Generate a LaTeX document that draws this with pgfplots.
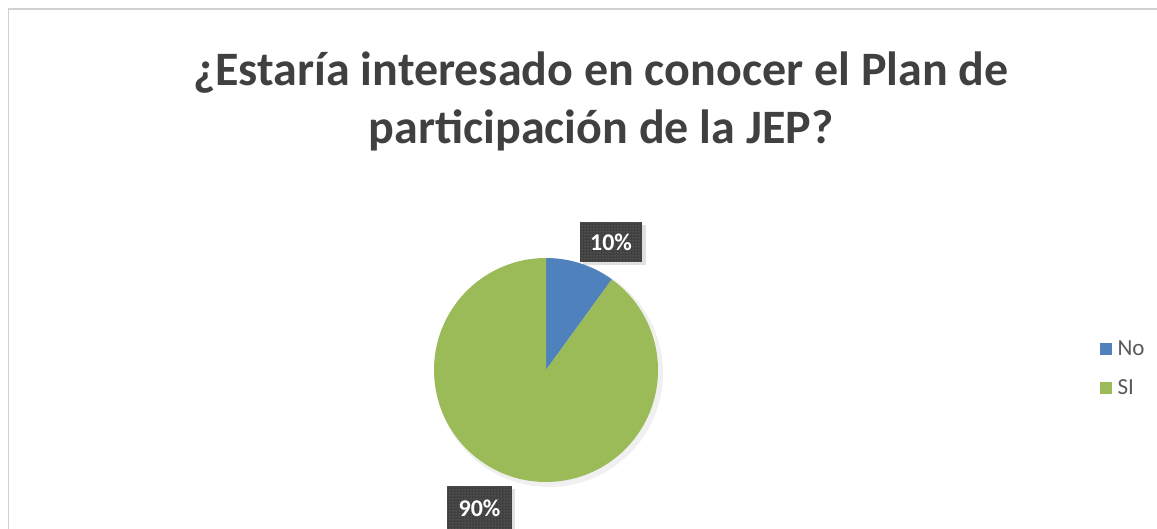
\documentclass[border=0pt]{standalone}
\usepackage{pgfplots}
\usepackage{pgfplotstable}
\pgfplotsset{compat=1.18}
\usepackage{fontspec}
\setmainfont{Carlito}
\usetikzlibrary{patterns}

\definecolor{cNo}{HTML}{4F81BD}
\definecolor{cSI}{HTML}{9BBB59}
\definecolor{titlegray}{HTML}{404040}
\definecolor{textgray}{HTML}{595959}
\definecolor{boxgray}{HTML}{404040}
\definecolor{framegray}{HTML}{D0D0D0}

% answers, in percent
\pgfplotstableread{
label value
No    10
SI    90
}\piedata

\begin{document}
\begin{tikzpicture}
\pgfplotstablegetelem{0}{value}\of\piedata \let\vNo\pgfplotsretval
\pgfplotstablegetelem{1}{value}\of\piedata \let\vSI\pgfplotsretval
\pgfmathsetmacro{\aA}{90}
\pgfmathsetmacro{\aB}{90-3.6*\vNo}
\pgfmathsetmacro{\aC}{\aB-3.6*\vSI}
\begin{axis}[
    scale only axis,
    width=1157pt, height=529pt,
    xmin=0, xmax=1157, ymin=0, ymax=529,
    hide axis,
    clip=false,
    legend style={at={(axis cs:1100,188)},anchor=north west,draw=none,fill=none,
        font=\fontsize{23}{23}\selectfont\color{textgray},
        row sep=24pt, inner sep=0pt,
        nodes={inner sep=0pt,text depth=0pt}},
    legend cell align=left,
    legend image code/.code={\fill[#1] (0pt,-5.5pt) rectangle (11pt,5.5pt);},
]
% frame of the chart area
\draw[framegray,line width=1.5pt] (axis cs:8.5,0) -- (axis cs:8.5,520) -- (axis cs:1157,520);

% title
\node[font=\fontsize{48}{58}\selectfont\bfseries,text=titlegray,align=center]
    at (axis cs:601,428) {¿Estaría interesado en conocer el Plan de\\participación de la JEP?};

% faint shadow of the pie
\fill[black,opacity=0.06] (axis cs:549,156) circle[radius=114pt];
% slices, angles from the table values
\fill[cNo] (axis cs:546,159) -- ++(\aA:112pt) arc[start angle=\aA,end angle=\aB,radius=112pt] -- cycle;
\fill[cSI] (axis cs:546,159) -- ++(\aB:112pt) arc[start angle=\aB,end angle=\aC,radius=112pt] -- cycle;

\addlegendimage{cNo}\addlegendentry{\hspace{6pt}No}
\addlegendimage{cSI}\addlegendentry{\hspace{6pt}SI}

% data labels
\fill[black,opacity=0.12] (axis cs:583,264) rectangle (axis cs:646,304);
\fill[boxgray] (axis cs:580,267) rectangle (axis cs:642,307);
\fill[pattern=dots,pattern color=white!40!boxgray] (axis cs:580,267) rectangle (axis cs:642,307);
\node[font=\fontsize{24}{24}\selectfont\bfseries,text=white] at (axis cs:611,287) {10\%};

\fill[black,opacity=0.12] (axis cs:450,0) rectangle (axis cs:515,40);
\fill[boxgray] (axis cs:447,0) rectangle (axis cs:512,43);
\fill[pattern=dots,pattern color=white!40!boxgray] (axis cs:447,0) rectangle (axis cs:512,43);
\node[font=\fontsize{24}{24}\selectfont\bfseries,text=white] at (axis cs:479.5,21) {90\%};
\end{axis}
\pgfresetboundingbox
\useasboundingbox (0,0) rectangle (1157pt,529pt);
\end{tikzpicture}
\end{document}
